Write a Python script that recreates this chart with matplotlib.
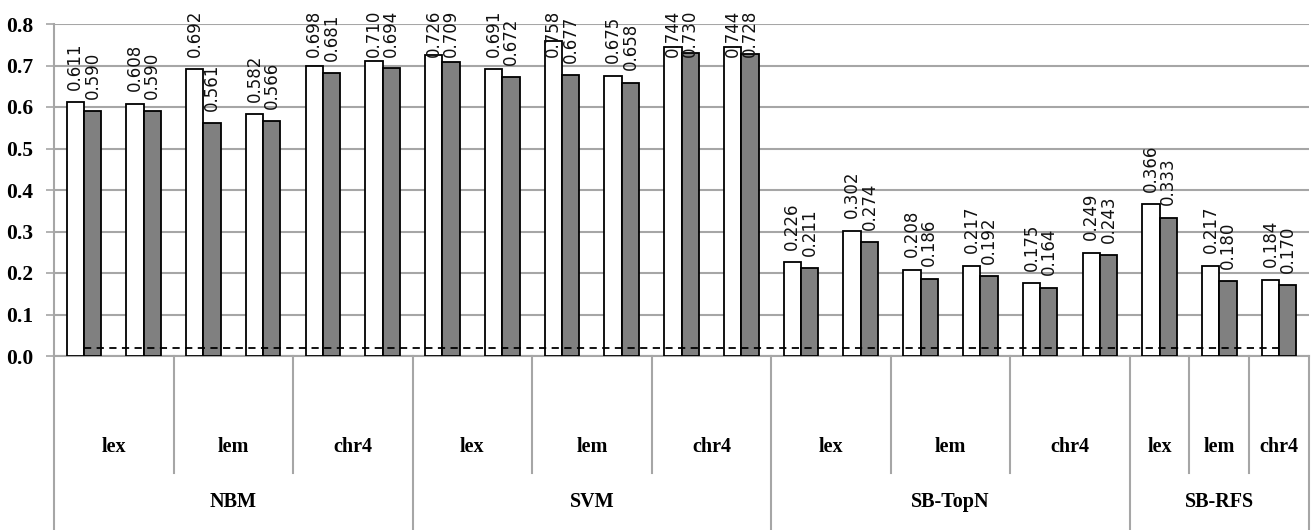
import matplotlib
matplotlib.use("Agg")
import matplotlib.pyplot as plt
import matplotlib.transforms as mtransforms

# Classifier groups, feature sets inside each, and how many bar pairs per feature set
methods = ["NBM", "SVM", "SB-TopN", "SB-RFS"]
features = ["lex", "lem", "chr4"]
pairs_per_feature = [2, 2, 2, 1]

# Scores (first series: white bars, second series: gray bars)
series_a = [0.611, 0.608, 0.692, 0.582, 0.698, 0.710,
            0.726, 0.691, 0.758, 0.675, 0.744, 0.744,
            0.226, 0.302, 0.208, 0.217, 0.175, 0.249,
            0.366, 0.217, 0.184]
series_b = [0.590, 0.590, 0.561, 0.566, 0.681, 0.694,
            0.709, 0.672, 0.677, 0.658, 0.730, 0.728,
            0.211, 0.274, 0.186, 0.192, 0.164, 0.243,
            0.333, 0.180, 0.170]
baseline = [0.02] * len(series_a)

y_ticks = [0.0, 0.1, 0.2, 0.3, 0.4, 0.5, 0.6, 0.7, 0.8]

W, H = 1314, 530
fig = plt.figure(figsize=(W / 100, H / 100), dpi=100)
left_px, right_px, top_px, zero_px = 54, 1309, 24, 356
ax = fig.add_axes([left_px / W, (H - zero_px) / H,
                   (right_px - left_px) / W, (zero_px - top_px) / H])

n = len(series_a)
x = list(range(n))
bw = 0.29
grid_c = "#a6a6a6"

ax.bar([i - bw / 2 for i in x], series_a, width=bw, color="white",
       edgecolor="black", linewidth=1.3, zorder=3)
ax.bar([i + bw / 2 for i in x], series_b, width=bw, color="#808080",
       edgecolor="black", linewidth=1.3, zorder=3)
ax.plot(x, baseline, color="black", linestyle=(0, (4, 3)), linewidth=1.3,
        zorder=4)

ax.set_xlim(-0.5, n - 0.5)
ax.set_ylim(0, 0.8)
ax.set_yticks(y_ticks)
ax.set_yticklabels([f"{t:.1f}" for t in y_ticks],
                   fontfamily="Liberation Serif", fontweight="bold",
                   fontsize=15.5)
ax.yaxis.grid(True, color=grid_c, linewidth=1.5, zorder=0)
ax.tick_params(axis="y", length=6, width=1.2, color=grid_c, pad=9)
ax.set_xticks([])
for s in ["top", "right"]:
    ax.spines[s].set_visible(False)
ax.spines["left"].set_visible(False)
ax.spines["bottom"].set_color(grid_c)
ax.spines["bottom"].set_linewidth(1.5)

# Value labels, rotated, kept inside the chart area
cap = 0.72
for vals, off in ((series_a, -bw / 2), (series_b, bw / 2)):
    for i, v in enumerate(vals):
        ax.text(i + off, min(v + 0.03, cap), f"{v:.3f}", rotation=90,
                ha="center", va="bottom", fontsize=12,
                fontfamily="DejaVu Sans", color="#111111", zorder=5,
                clip_on=False)

# Two-level category axis below the plot
trans = mtransforms.blended_transform_factory(ax.transData, ax.transAxes)
ax_h = zero_px - top_px
inner_bot = -(473 - zero_px) / ax_h
outer_bot = -(H - zero_px) / ax_h
inner_lab = -(447 - zero_px) / ax_h
outer_lab = -(502 - zero_px) / ax_h

line_kw = dict(color=grid_c, linewidth=1.5, clip_on=False, transform=trans)
lab_kw = dict(fontfamily="Liberation Serif", fontweight="bold", fontsize=14.5,
              ha="center", va="center", transform=trans)

# Left axis line runs from the top of the plot to the bottom edge
ax.plot([-0.5, -0.5], [1, outer_bot], **line_kw)

pos = -0.5
for m, k in zip(methods, pairs_per_feature):
    start = pos
    for j, f in enumerate(features):
        ax.text(pos + k / 2, inner_lab, f, **lab_kw)
        pos += k
        if j < len(features) - 1:
            ax.plot([pos, pos], [0, inner_bot], **line_kw)
    ax.text((start + pos) / 2, outer_lab, m, **lab_kw)
    ax.plot([pos, pos], [0, outer_bot], **line_kw)

fig.savefig("out.png", dpi=100)
